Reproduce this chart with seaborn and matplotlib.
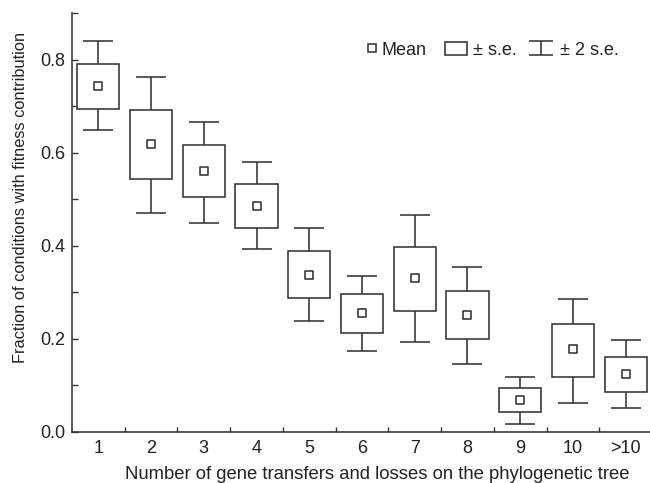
import numpy as np
import pandas as pd
import matplotlib
matplotlib.use("Agg")
import matplotlib.pyplot as plt
from matplotlib.legend import Legend
from matplotlib.lines import Line2D
from matplotlib.patches import Patch
from matplotlib.path import Path
import seaborn as sns

# --- values --- #
categories = ['1', '2', '3', '4', '5', '6', '7', '8', '9', '10', '>10']
mean = [0.744, 0.619, 0.560, 0.486, 0.338, 0.255, 0.330, 0.252, 0.068, 0.177, 0.125]
se_low = [0.695, 0.544, 0.505, 0.438, 0.288, 0.212, 0.260, 0.200, 0.042, 0.118, 0.085]
se_high = [0.792, 0.692, 0.616, 0.533, 0.388, 0.296, 0.398, 0.303, 0.093, 0.231, 0.161]
se2_low = [0.649, 0.470, 0.450, 0.392, 0.238, 0.173, 0.192, 0.146, 0.016, 0.062, 0.050]
se2_high = [0.841, 0.763, 0.667, 0.580, 0.438, 0.335, 0.467, 0.354, 0.118, 0.286, 0.197]

df = pd.DataFrame({'group': categories, 'mean': mean,
                   'lo': se_low, 'hi': se_high, 'lo2': se2_low, 'hi2': se2_high})
df['x'] = np.arange(len(df))

sns.set_style('ticks')
plt.rcParams['font.family'] = ['Liberation Sans', 'DejaVu Sans']
ink = '#333333'
txt = '#222222'
fs = 13
lw = 1.15

fig = plt.figure(figsize=(6.5, 4.83), dpi=100)
ax = fig.add_axes([72 / 650, 51.3 / 483, 580 / 650, 418.4 / 483])

# +-2 s.e. whiskers
ax.errorbar(df['x'], (df['hi2'] + df['lo2']) / 2, yerr=(df['hi2'] - df['lo2']) / 2,
            fmt='none', ecolor=ink, elinewidth=lw, capsize=10.8, capthick=lw, zorder=1)
# +- s.e. boxes
ax.bar(df['x'], df['hi'] - df['lo'], bottom=df['lo'], width=0.8,
       color='white', edgecolor=ink, linewidth=lw, zorder=2)
# means
sns.scatterplot(data=df, x='x', y='mean', marker='s', s=28, color='white',
                edgecolor=ink, linewidth=lw, zorder=3, ax=ax, legend=False)

ax.set_xlim(-0.5, 10.5)
ax.set_ylim(0, 0.9)
ax.set_xticks(df['x'])
ax.set_xticklabels(categories)
ax.set_xticks(np.arange(0.5, 10, 1), minor=True)
ax.set_yticks([0.0, 0.2, 0.4, 0.6, 0.8])
ax.set_yticklabels(['0.0', '0.2', '0.4', '0.6', '0.8'])
ax.set_yticks([0.1, 0.3, 0.5, 0.7, 0.9], minor=True)
ax.tick_params(axis='x', which='major', length=0, pad=6, labelsize=fs, colors=txt)
ax.tick_params(axis='x', which='minor', direction='in', length=3.5, width=1.0, color=ink)
ax.tick_params(axis='y', which='both', direction='in', length=4, width=1.0, color=ink,
               pad=5, labelsize=fs, labelcolor=txt)
sns.despine(ax=ax)
for s in ['left', 'bottom']:
    ax.spines[s].set_color(ink)
    ax.spines[s].set_linewidth(lw)

ax.set_xlabel('Number of gene transfers and losses on the phylogenetic tree',
              fontsize=13.3, color=txt)
ax.set_ylabel('Fraction of conditions with fitness contribution',
              fontsize=11.8, color=txt)
ax.xaxis.set_label_coords(0.526, -0.082)
ax.yaxis.set_label_coords(-0.075, 0.561)

# legend, three pieces placed like the original
ibeam = Path([(-1, 0.65), (1, 0.65), (0, 0.65), (0, -0.65), (-1, -0.65), (1, -0.65)],
             [Path.MOVETO, Path.LINETO, Path.MOVETO, Path.LINETO, Path.MOVETO, Path.LINETO])
entries = [
    (Line2D([], [], marker='s', linestyle='none', markersize=5.2, markerfacecolor='white',
            markeredgecolor=ink, markeredgewidth=lw), 'Mean', 0.508, 0.55, 0.3),
    (Patch(facecolor='white', edgecolor=ink, linewidth=lw), '± s.e.', 0.643, 1.22, 0.33),
    (Line2D([], [], marker=ibeam, linestyle='none', markersize=16.6, markerfacecolor='none',
            markeredgecolor=ink, markeredgewidth=lw), '± 2 s.e.', 0.788, 1.27, 0.44),
]
for h, lab, x0, hl, pad in entries:
    leg = Legend(ax, [h], [lab], frameon=False, fontsize=fs, loc='center left',
                 bbox_to_anchor=(x0, 0.912), borderpad=0, borderaxespad=0,
                 handlelength=hl, handletextpad=pad, labelcolor=txt)
    ax.add_artist(leg)

fig.savefig('out.png', dpi=100)
